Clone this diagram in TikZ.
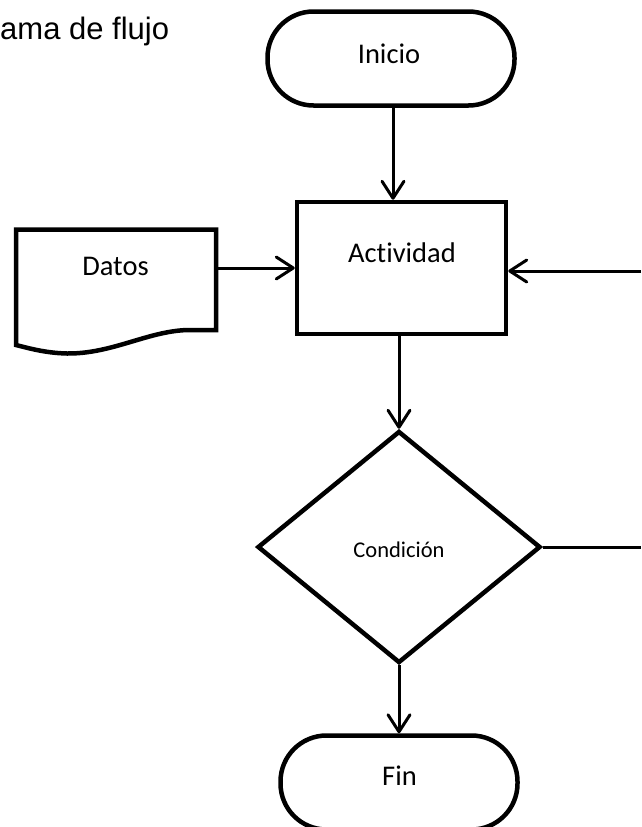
\documentclass[tikz,border=0pt]{standalone}
\usepackage{fontspec}
\setmainfont[Ligatures=NoCommon]{Carlito}
\newfontfamily\titlefont{Liberation Sans}
\usetikzlibrary{arrows.meta,shapes.geometric,calc}

\begin{document}
\begin{tikzpicture}[x=1pt,y=-1pt,
  shapeline/.style={draw=black,line width=4.5pt,fill=white},
  terminal/.style={shapeline,rectangle,rounded corners=46pt,minimum height=94pt},
  procbox/.style={shapeline,rectangle,minimum width=209pt,minimum height=132pt},
  decision/.style={shapeline,diamond,minimum width=283pt,minimum height=232pt,inner sep=0pt},
  lbl/.style={font=\fontsize{28.5}{32}\selectfont,inner sep=0pt,anchor=base},
  smalllbl/.style={font=\fontsize{22.5}{26}\selectfont,inner sep=0pt,anchor=base},
  flow/.style={line width=3pt,-{Straight Barb[length=17pt,width=22pt,line cap=round,line join=round]}},
  link/.style={line width=3pt}
]
\useasboundingbox (0,0) rectangle (641,827);
\clip (0,0) rectangle (641,827);

% title (partly outside the page on the left)
\node[font=\titlefont\fontsize{31}{36}\selectfont,anchor=base west,inner sep=0pt] (title) at (0,39) {ama de flujo};

% flowchart shapes
\node[terminal,minimum width=247pt] (ini) at (391,58.5) {};
\node[procbox] (act) at (401.5,268) {};
\node[decision] (cond) at (399,547) {};
\node[terminal,minimum width=237pt] (fin) at (399,782.5) {};

% data (document) shape with wavy lower edge
\node[minimum width=204pt,minimum height=120pt,inner sep=0pt,outer sep=0pt] (datos) at (116,279) {};
\draw[line width=4.5pt,line join=miter,fill=white]
  (16,229.5) -- (216,229.5) -- (216,330) -- (188,330)
  .. controls (148,331) and (112,354) .. (67,353.5)
  .. controls (45,353) and (28,348) .. (16,345) -- cycle;

% labels
\node[lbl] (iniT) at ($(ini.center)+(-2,4.5)$) {Inicio};
\node[lbl] (actT) at ($(act.center)+(0.5,-6)$) {Actividad};
\node[lbl] (datosT) at (115.5,275) {Datos};
\node[smalllbl] (condT) at ($(cond.center)+(0,10)$) {Condición};
\node[lbl] (finT) at ($(fin.center)+(0.5,2.5)$) {Fin};

% connectors
\coordinate (xA) at (393,0);
\coordinate (inR) at (641,271);
\coordinate (outR) at (641,547);
\draw[flow] (ini.south -| xA) -- (act.north -| xA);
\draw[flow] (datos.east |- act.west) -- (act.west);
\draw[flow] (inR) -- (inR -| act.east);
\draw[flow] (act.south -| cond.north) -- (cond.north);
\draw[link] (cond.east) -- (outR);
\draw[flow] (cond.south) -- (fin.north -| cond.south);
\end{tikzpicture}
\end{document}
